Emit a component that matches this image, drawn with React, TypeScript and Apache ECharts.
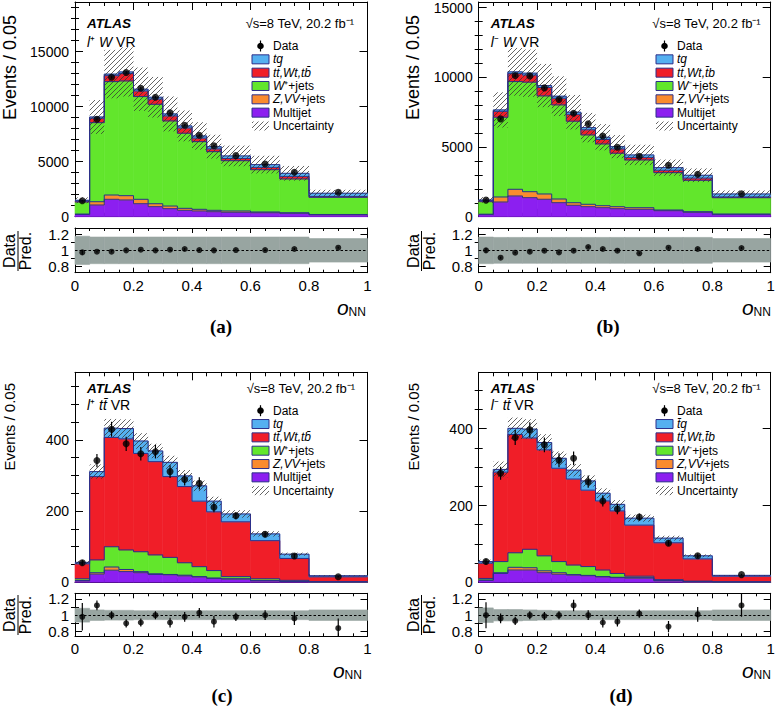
import React, { useEffect, useRef } from "react";
import * as echarts from "echarts";

const FONT = "'Liberation Sans', Arial, Helvetica, sans-serif";
const SERIF = "'Liberation Serif', 'Times New Roman', serif";

// ---------- binning ----------
const binEdges = [0, 0.05, 0.1, 0.15, 0.2, 0.25, 0.3, 0.35, 0.4, 0.45, 0.5, 0.6, 0.7, 0.8, 1.0];
const binCenters = [0.025, 0.075, 0.125, 0.175, 0.225, 0.275, 0.325, 0.375, 0.425, 0.475, 0.55, 0.65, 0.75, 0.9];

// ---------- tick labels ----------
const xTicks = [0, 0.2, 0.4, 0.6, 0.8, 1];
const wYTicks = [0, 5000, 10000, 15000];
const wYMinorA = [1000, 2000, 3000, 4000, 6000, 7000, 8000, 9000, 11000, 12000, 13000, 14000, 16000, 17000, 18000, 19000];
const wYMinorB = [1000, 2000, 3000, 4000, 6000, 7000, 8000, 9000, 11000, 12000, 13000, 14000];
const ttYTicks = [0, 200, 400];
const ttYMinor = [50, 100, 150, 250, 300, 350, 450, 500, 550];
const ratioTicks = [0.8, 1, 1.2];
const ratioMinor = [0.9, 1.1];

// ---------- (a) l+ W VR ----------
const aMultijet = [200, 1063, 1580, 1520, 1180, 910, 730, 580, 520, 455, 400, 360, 310, 170];
const aZVV = [40, 300, 390, 390, 400, 270, 240, 180, 150, 125, 120, 70, 50, 30];
const aWjets = [1100, 7180, 10300, 10420, 9330, 9030, 7730, 6820, 6150, 5330, 4570, 3840, 3070, 1560];
const aTtbar = [80, 400, 540, 670, 510, 470, 455, 480, 320, 250, 200, 210, 230, 80];
const aTq = [70, 115, 140, 150, 160, 170, 180, 185, 195, 200, 230, 250, 280, 290];
const aData = [1450, 8850, 12670, 13100, 11670, 10850, 9430, 8300, 7400, 6450, 5545, 4790, 4035, 2220];
const aDataErr = [38, 94, 113, 114, 108, 104, 97, 91, 86, 80, 53, 49, 45, 24];
const aUnc = [0.18, 0.17, 0.17, 0.17, 0.17, 0.17, 0.17, 0.17, 0.17, 0.17, 0.17, 0.17, 0.17, 0.15];
const aRatio = [0.974, 0.983, 0.983, 1.0, 1.008, 1.0, 1.008, 1.017, 1.004, 1.0, 1.004, 1.004, 1.017, 1.034];
const aRatioErr = [0.03, 0.012, 0.01, 0.01, 0.01, 0.01, 0.011, 0.012, 0.012, 0.013, 0.01, 0.011, 0.012, 0.011];

// ---------- (b) l- W VR ----------
const bMultijet = [150, 1055, 1486, 1364, 1250, 1005, 818, 718, 646, 574, 531, 431, 316, 150];
const bZVV = [30, 360, 480, 431, 380, 265, 187, 172, 144, 144, 115, 50, 43, 44];
const bWjets = [900, 5720, 7727, 7855, 7036, 6750, 5845, 4976, 4430, 3834, 3425, 2679, 2254, 1170];
const bTtbar = [70, 420, 570, 510, 600, 480, 496, 369, 320, 309, 184, 173, 159, 56];
const bTq = [50, 105, 127, 136, 140, 145, 150, 155, 160, 165, 175, 185, 200, 210];
const bData = [1190, 7015, 10124, 10100, 9240, 8400, 7424, 6656, 5794, 4983, 4337, 3690, 3044, 1651];
const bDataErr = [34, 84, 100, 100, 96, 92, 86, 82, 76, 71, 47, 43, 39, 20];
const bUnc = [0.17, 0.165, 0.165, 0.165, 0.165, 0.165, 0.165, 0.165, 0.165, 0.165, 0.165, 0.165, 0.165, 0.15];
const bRatio = [1.0, 0.906, 0.97, 0.983, 0.996, 0.974, 0.996, 1.043, 1.017, 0.996, 0.962, 1.034, 1.017, 1.03];
const bRatioErr = [0.03, 0.012, 0.01, 0.01, 0.01, 0.011, 0.012, 0.013, 0.013, 0.014, 0.011, 0.012, 0.013, 0.012];

// ---------- (c) l+ ttbar VR ----------
const cMultijet = [4, 23, 34, 30, 27, 22, 21, 18, 15, 11, 9, 4, 2, 0.8];
const cZVV = [1, 4, 9, 6, 3, 2, 1, 2, 1, 1, 1, 1, 0.5, 0.2];
const cWjets = [5, 36, 57, 55, 56, 53, 48, 35, 28, 21, 6, 5, 3, 1];
const cTtbar = [42, 234, 307, 312, 276, 262, 227, 214, 184, 165, 154, 107, 61.5, 13.5];
const cTq = [4, 14, 26, 29, 35, 30, 40, 30, 43, 30, 22, 19, 12, 3];
const cData = [55, 342, 430, 389, 361, 367, 311, 289, 278, 211, 187, 135, 74, 15.7];
const cDataErr = [7.5, 18.5, 21, 20, 19, 19, 18, 17, 17, 14.5, 9.7, 8.2, 6.1, 2];
const cUnc = [0.085, 0.065, 0.06, 0.06, 0.055, 0.055, 0.055, 0.055, 0.055, 0.055, 0.055, 0.055, 0.055, 0.065];
const cRatio = [0.98, 1.12, 1.0, 0.9, 0.91, 1.0, 0.91, 0.98, 1.03, 0.92, 0.98, 1.0, 0.96, 0.84];
const cRatioErr = [0.17, 0.06, 0.05, 0.05, 0.05, 0.05, 0.06, 0.06, 0.06, 0.07, 0.05, 0.06, 0.08, 0.12];

// ---------- (d) l- ttbar VR ----------
const dMultijet = [5, 23, 32, 32, 25, 21, 19, 17, 14, 12, 11, 4, 1.5, 0.6];
const dZVV = [1, 2, 7, 6, 5, 4, 1, 1, 1, 1, 1, 0.5, 0.3, 0.2];
const dWjets = [4, 29, 38, 48, 39, 29, 25, 23, 17, 10, 4, 2.5, 1.2, 0.7];
const dTtbar = [40, 233, 308, 290, 276, 243, 224, 199, 180, 163, 133, 96, 58, 14.5];
const dTq = [4, 7, 16, 23, 19, 26, 23, 24, 20, 17, 18, 12, 8, 2];
const dData = [54, 284, 377, 397, 358, 318, 323, 262, 212, 191, 170, 102, 69, 20];
const dDataErr = [7.3, 17, 19.4, 20, 19, 18, 18, 16, 14.6, 13.8, 9.2, 7.1, 5.9, 2.2];
const dUnc = [0.09, 0.07, 0.07, 0.065, 0.06, 0.055, 0.055, 0.055, 0.055, 0.055, 0.055, 0.055, 0.055, 0.065];
const dRatio = [1.0, 0.96, 0.93, 1.0, 0.99, 1.0, 1.12, 1.0, 0.91, 0.92, 1.02, 0.86, 1.01, 1.12];
const dRatioErr = [0.16, 0.06, 0.05, 0.05, 0.05, 0.05, 0.07, 0.06, 0.06, 0.06, 0.05, 0.07, 0.09, 0.14];

// ---------- styles ----------
// stacking order bottom->top: Multijet, Z/VV, W, ttbar, tq
const procColors = ["#8c1ff0", "#fa8b2e", "#62e62c", "#f01e28", "#55b0f0"];
const lineColor = "#2c2f8a";
const bandColor = "#98a5a1";
const HATCH_SVG =
  "<svg xmlns='http://www.w3.org/2000/svg' width='5' height='5'><path d='M-1,1 L1,-1 M0,5 L5,0 M4,6 L6,4' stroke='#333' stroke-width='0.75' fill='none'/></svg>";
const HATCH = {
  image: "data:image/svg+xml;charset=utf-8," + encodeURIComponent(HATCH_SVG),
  repeat: "repeat",
  imageWidth: 5,
  imageHeight: 5,
};

const PANELS = [
  {
    comps: [aMultijet, aZVV, aWjets, aTtbar, aTq], data: aData, dataErr: aDataErr, unc: aUnc,
    ratio: aRatio, ratioErr: aRatioErr, ymax: 19500, yTicks: wYTicks, yMinor: wYMinorA, rmin: 0.715, rmax: 1.285,
    main: { left: 75, top: 2, width: 292.5, height: 214.7 }, rbox: { left: 75, top: 228, width: 292.5, height: 44.7 },
    region: "{i|l}⁺ {i|W} VR", tqLab: "{i|tq}", ttLab: "{i|tt\u0304,Wt,tb\u0304}", wLab: "{i|W}⁺+jets",
    tx: { atlasX: 87, atlasY: 23, regionY: 42, sqrtX: 354, sqrtY: 23, boxX: 252, legY0: 46,
      yTitleX: 10, yTitleTop: 15, yTitleSize: 18, rTitleY: 251, rDataX: 9.5, rPredX: 25.5,
      oX: 337, oY: 307, letter: "(a)", letterX: 221, letterY: 326 },
  },
  {
    comps: [bMultijet, bZVV, bWjets, bTtbar, bTq], data: bData, dataErr: bDataErr, unc: bUnc,
    ratio: bRatio, ratioErr: bRatioErr, ymax: 15400, yTicks: wYTicks, yMinor: wYMinorB, rmin: 0.715, rmax: 1.285,
    main: { left: 478.7, top: 2, width: 292, height: 214.7 }, rbox: { left: 478.7, top: 228, width: 292, height: 44.7 },
    region: "{i|l}⁻ {i|W} VR", tqLab: "{i|tq}", ttLab: "{i|tt\u0304,Wt,t\u0304b}", wLab: "{i|W}⁻+jets",
    tx: { atlasX: 490.7, atlasY: 23, regionY: 42, sqrtX: 760.7, sqrtY: 23, boxX: 656, legY0: 46,
      yTitleX: 413, yTitleTop: 15, yTitleSize: 18, rTitleY: 251, rDataX: 413, rPredX: 429,
      oX: 742, oY: 307, letter: "(b)", letterX: 608, letterY: 326 },
  },
  {
    comps: [cMultijet, cZVV, cWjets, cTtbar, cTq], data: cData, dataErr: cDataErr, unc: cUnc,
    ratio: cRatio, ratioErr: cRatioErr, ymax: 590, yTicks: ttYTicks, yMinor: ttYMinor, rmin: 0.74, rmax: 1.27,
    main: { left: 75, top: 372.3, width: 292.5, height: 210 }, rbox: { left: 75, top: 593.3, width: 292.5, height: 43 },
    region: "{i|l}⁺ {i|tt\u0304} VR", tqLab: "{i|tq}", ttLab: "{i|tt\u0304,Wt,tb\u0304}", wLab: "{i|W}⁺+jets",
    tx: { atlasX: 87, atlasY: 388.3, regionY: 405, sqrtX: 355, sqrtY: 388, boxX: 252, legY0: 410.7,
      yTitleX: 9, yTitleTop: 383, yTitleSize: 15, rTitleY: 615, rDataX: 9.5, rPredX: 25.5,
      oX: 333, oY: 670, letter: "(c)", letterX: 222, letterY: 695 },
  },
  {
    comps: [dMultijet, dZVV, dWjets, dTtbar, dTq], data: dData, dataErr: dDataErr, unc: dUnc,
    ratio: dRatio, ratioErr: dRatioErr, ymax: 547, yTicks: ttYTicks, yMinor: ttYMinor.filter((v) => v < 547), rmin: 0.74, rmax: 1.27,
    main: { left: 478.7, top: 372.3, width: 292, height: 210 }, rbox: { left: 478.7, top: 593.3, width: 292, height: 43 },
    region: "{i|l}⁻ {i|tt\u0304} VR", tqLab: "{i|t\u0304q}", ttLab: "{i|tt\u0304,Wt,t\u0304b}", wLab: "{i|W}⁻+jets",
    tx: { atlasX: 490.7, atlasY: 388.3, regionY: 405, sqrtX: 760.7, sqrtY: 388, boxX: 656, legY0: 410.7,
      yTitleX: 413, yTitleTop: 383, yTitleSize: 15, rTitleY: 615, rDataX: 413, rPredX: 429,
      oX: 742, oY: 670, letter: "(d)", letterX: 621, letterY: 695 },
  },
];

const BLACK = { color: "#000", width: 1 };

function xAxesFor(g: number, showLabels: boolean, majLen: number, minLen: number) {
  const common: any = {
    type: "value", gridIndex: g, min: 0, max: 1, interval: 0.2,
    splitLine: { show: false },
    axisLine: { show: true, onZero: false, lineStyle: BLACK },
    axisTick: { show: true, inside: true, length: majLen, lineStyle: BLACK },
    minorTick: { show: true, splitNumber: 4, length: minLen, lineStyle: BLACK },
  };
  return [
    {
      ...common, position: "bottom",
      axisLabel: {
        show: showLabels, fontSize: 15, fontFamily: FONT, color: "#000", margin: 5,
        formatter: (v: number) => (xTicks.includes(v) ? (v === 0 ? "0" : v === 1 ? "1" : v.toFixed(1)) : ""),
      },
    },
    { ...common, position: "top", axisLabel: { show: false } },
  ];
}

function yAxesFor(g: number, min: number, max: number, majors: number[], minors: number[], fs: number, majLen: number, minLen: number) {
  const base: any = { type: "value", gridIndex: g, min, max, splitLine: { show: false } };
  const majTick = { show: true, inside: true, length: majLen, customValues: majors, lineStyle: BLACK };
  const minTick = { show: true, inside: true, length: minLen, customValues: minors, lineStyle: BLACK };
  return [
    {
      ...base, position: "left", axisLine: { show: true, onZero: false, lineStyle: BLACK }, axisTick: majTick,
      axisLabel: { show: true, customValues: majors, fontSize: fs, fontFamily: FONT, color: "#000", margin: 6, formatter: (v: number) => String(v) },
    },
    { ...base, position: "left", axisLine: { show: false }, axisTick: minTick, axisLabel: { show: false } },
    { ...base, position: "right", axisLine: { show: true, onZero: false, lineStyle: BLACK }, axisTick: majTick, axisLabel: { show: false } },
    { ...base, position: "right", axisLine: { show: false }, axisTick: minTick, axisLabel: { show: false } },
  ];
}

function rectFrom(api: any) {
  const p0 = api.coord([api.value(0), api.value(2)]);
  const p1 = api.coord([api.value(1), api.value(3)]);
  return { x: p0[0], y: p1[1], width: p1[0] - p0[0], height: p0[1] - p1[1] };
}

function panelSeries(P: any, gm: number, gr: number) {
  const cum: number[][] = [P.comps[0].map(() => 0)];
  P.comps.forEach((c: number[], k: number) => cum.push(c.map((v, b) => cum[k][b] + v)));
  const total = cum[cum.length - 1];
  const fillItems: number[][] = [];
  P.comps.forEach((c: number[], k: number) =>
    c.forEach((_v, b) => fillItems.push([binEdges[b], binEdges[b + 1], cum[k][b], cum[k + 1][b], k]))
  );
  const xm = 2 * gm, ym = 4 * gm, xr = 2 * gr, yr = 4 * gr;
  const errBar = (lw: number) => (_p: any, api: any) => {
    const a = api.coord([api.value(0), api.value(1)]);
    const c = api.coord([api.value(0), api.value(2)]);
    return { type: "line", shape: { x1: a[0], y1: a[1], x2: c[0], y2: c[1] }, style: { stroke: "#000", lineWidth: lw } };
  };
  return [
    {
      type: "custom", xAxisIndex: xm, yAxisIndex: ym, z: 2, silent: true, data: fillItems,
      encode: { x: [0, 1], y: [2, 3] },
      renderItem: (_p: any, api: any) => {
        const col = procColors[api.value(4)];
        return { type: "rect", shape: rectFrom(api), style: { fill: col, stroke: col, lineWidth: 0.6 } };
      },
    },
    {
      type: "custom", xAxisIndex: xm, yAxisIndex: ym, z: 3, silent: true,
      data: P.comps.map((_c: any, k: number) => [0, 0, k + 1]), encode: { x: 0, y: 1 },
      renderItem: (_p: any, api: any) => {
        const top = cum[api.value(2)];
        const pts: number[][] = [];
        top.forEach((v, b) => {
          pts.push(api.coord([binEdges[b], v]));
          pts.push(api.coord([binEdges[b + 1], v]));
        });
        return { type: "polyline", shape: { points: pts }, style: { stroke: lineColor, lineWidth: 1, fill: "none" } };
      },
    },
    {
      type: "custom", xAxisIndex: xm, yAxisIndex: ym, z: 4, silent: true,
      data: total.map((t, b) => [binEdges[b], binEdges[b + 1], t * (1 - P.unc[b]), t * (1 + P.unc[b])]),
      encode: { x: [0, 1], y: [2, 3] },
      renderItem: (_p: any, api: any) => ({ type: "rect", shape: rectFrom(api), style: { fill: HATCH } }),
    },
    {
      type: "custom", xAxisIndex: xm, yAxisIndex: ym, z: 5, silent: true,
      data: P.data.map((v: number, b: number) => [binCenters[b], v - P.dataErr[b], v + P.dataErr[b]]),
      encode: { x: 0, y: [1, 2] }, renderItem: errBar(1.2),
    },
    {
      type: "scatter", xAxisIndex: xm, yAxisIndex: ym, z: 6, silent: true, symbol: "circle", symbolSize: 7,
      itemStyle: { color: "#000" }, data: P.data.map((v: number, b: number) => [binCenters[b], v]),
    },
    {
      type: "custom", xAxisIndex: xr, yAxisIndex: yr, z: 2, silent: true,
      data: P.unc.map((u: number, b: number) => [binEdges[b], binEdges[b + 1], 1 - u, 1 + u]),
      encode: { x: [0, 1], y: [2, 3] },
      renderItem: (_p: any, api: any) => ({ type: "rect", shape: rectFrom(api), style: { fill: bandColor, stroke: bandColor, lineWidth: 0.6 } }),
    },
    {
      type: "custom", xAxisIndex: xr, yAxisIndex: yr, z: 5, silent: true, clip: true,
      data: P.ratio.map((v: number, b: number) => [binCenters[b], v - P.ratioErr[b], v + P.ratioErr[b]]),
      encode: { x: 0, y: [1, 2] }, renderItem: errBar(1.2),
    },
    {
      type: "scatter", xAxisIndex: xr, yAxisIndex: yr, z: 6, silent: true, symbol: "circle", symbolSize: 6,
      itemStyle: { color: "#000" }, data: P.ratio.map((v: number, b: number) => [binCenters[b], v]),
      markLine: {
        silent: true, symbol: "none", label: { show: false }, animation: false,
        lineStyle: { color: "#000", type: [2.5, 2], width: 1 }, data: [{ yAxis: 1 }],
      },
    },
  ];
}

function T(x: number, y: number, text: string, o: any = {}) {
  const align = o.align || "left";
  const valign = o.valign || "middle";
  return {
    type: "text", x, y, rotation: o.rotation || 0, silent: true, z: 100,
    style: {
      text, fill: "#000", fontSize: o.size || 13, fontFamily: o.family || FONT,
      fontWeight: o.weight || "normal", fontStyle: o.fstyle || "normal",
      align, verticalAlign: valign, textAlign: align, textVerticalAlign: valign,
      rich: o.rich,
    },
  };
}

function panelGraphics(P: any) {
  const t = P.tx;
  const els: any[] = [];
  const italicRich = (size: number) => ({ i: { fontStyle: "italic", fontSize: size, fontFamily: FONT, fill: "#000" } });
  els.push(T(t.atlasX, t.atlasY, "ATLAS", { size: 13.5, weight: "bold", fstyle: "italic" }));
  els.push(T(t.atlasX, t.regionY, P.region, { size: 14, rich: italicRich(14) }));
  els.push(T(t.sqrtX, t.sqrtY, "√s=8 TeV, 20.2 fb⁻¹", { size: 13, align: "right" }));
  // legend
  const step = 13.33;
  const bx = t.boxX, tX = t.boxX + 21;
  const rows = [
    { lab: "Data", kind: "data" },
    { lab: P.tqLab, kind: 4 },
    { lab: P.ttLab, kind: 3 },
    { lab: P.wLab, kind: 2 },
    { lab: "{i|Z,VV}+jets", kind: 1 },
    { lab: "Multijet", kind: 0 },
    { lab: "Uncertainty", kind: "unc" },
  ];
  rows.forEach((r, i) => {
    const y = t.legY0 + i * step;
    if (r.kind === "data") {
      els.push({ type: "line", silent: true, z: 100, shape: { x1: bx + 8.5, y1: y - 5.5, x2: bx + 8.5, y2: y + 5.5 }, style: { stroke: "#000", lineWidth: 1.2 } });
      els.push({ type: "circle", silent: true, z: 101, shape: { cx: bx + 8.5, cy: y, r: 3.3 }, style: { fill: "#000" } });
    } else if (r.kind === "unc") {
      els.push({ type: "rect", silent: true, z: 100, shape: { x: bx, y: y - 4.5, width: 17, height: 9 }, style: { fill: HATCH } });
    } else {
      els.push({ type: "rect", silent: true, z: 100, shape: { x: bx, y: y - 4.5, width: 17, height: 9 }, style: { fill: procColors[r.kind as number], stroke: lineColor, lineWidth: 1 } });
    }
    els.push(T(tX, y, r.lab, { size: 12, rich: italicRich(12) }));
  });
  // y title
  els.push(T(t.yTitleX, t.yTitleTop, "Events / 0.05", { size: t.yTitleSize, rotation: Math.PI / 2, align: "right" }));
  // ratio title
  els.push(T(t.rDataX, t.rTitleY, "Data", { size: 16, rotation: Math.PI / 2, align: "center" }));
  els.push(T(t.rPredX, t.rTitleY, "Pred.", { size: 16, rotation: Math.PI / 2, align: "center" }));
  const lx = (t.rDataX + t.rPredX) / 2 + 0.5;
  els.push({ type: "line", silent: true, z: 100, shape: { x1: lx, y1: t.rTitleY - 20, x2: lx, y2: t.rTitleY + 20 }, style: { stroke: "#000", lineWidth: 1 } });
  // x title
  els.push(T(t.oX, t.oY, "o", { size: 21, fstyle: "italic" }));
  els.push(T(t.oX + 11.5, t.oY + 5, "NN", { size: 12 }));
  // panel letter
  els.push(T(t.letterX, t.letterY, t.letter, { size: 19, weight: "bold", family: SERIF, align: "center" }));
  return els;
}

function buildOption() {
  const grid: any[] = [];
  const xAxis: any[] = [];
  const yAxis: any[] = [];
  const series: any[] = [];
  const graphic: any[] = [];
  PANELS.forEach((P, p) => {
    const gm = 2 * p, gr = 2 * p + 1;
    grid.push({ ...P.main, containLabel: false, outerBoundsMode: "none", show: false });
    grid.push({ ...P.rbox, containLabel: false, outerBoundsMode: "none", show: false });
    xAxis.push(...xAxesFor(gm, false, 8, 4));
    xAxis.push(...xAxesFor(gr, true, 5, 3));
    yAxis.push(...yAxesFor(gm, 0, P.ymax, P.yTicks, P.yMinor, 14, 8, 4));
    yAxis.push(...yAxesFor(gr, P.rmin, P.rmax, ratioTicks, ratioMinor, 15, 7, 4));
    series.push(...panelSeries(P, gm, gr));
    graphic.push(...panelGraphics(P));
  });
  return {
    animation: false,
    backgroundColor: "#fff",
    grid, xAxis, yAxis, series,
    graphic: { elements: graphic },
  };
}

export default function App() {
  const ref = useRef<HTMLDivElement>(null);
  useEffect(() => {
    const chart = echarts.init(ref.current as HTMLDivElement, null, { renderer: "svg" });
    chart.setOption(buildOption() as any);
    return () => chart.dispose();
  }, []);
  return (
    <div
      ref={ref}
      style={{ position: "fixed", left: 0, top: 0, width: 777, height: 707, background: "#fff" }}
    />
  );
}
